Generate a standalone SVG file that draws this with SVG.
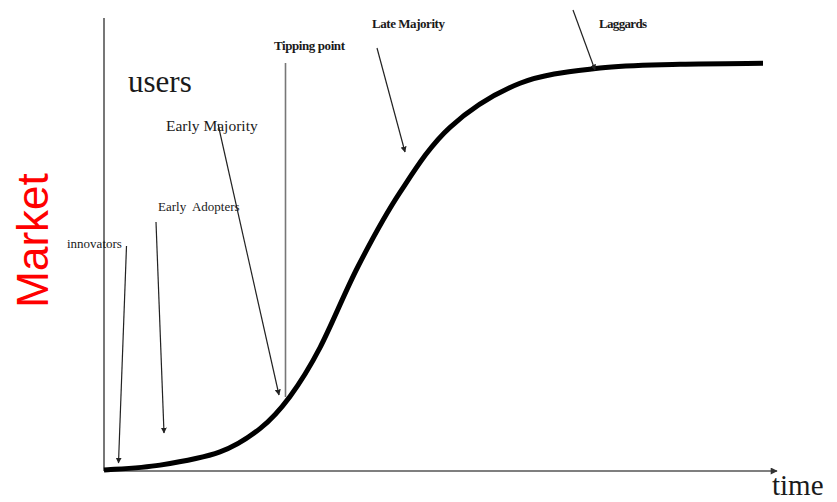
<svg xmlns="http://www.w3.org/2000/svg" width="837" height="502" viewBox="0 0 837 502">
  <style>
    .lbl { font-family: "Liberation Serif", "Times New Roman", serif; fill: #1a1a1a; }
    .axis { stroke: #555; stroke-width: 1.6; fill: none; }
    .ptr { stroke: #222; stroke-width: 1.2; fill: none; marker-end: url(#ah); }
    .curve { stroke: #000; stroke-width: 5; fill: none; stroke-linejoin: round; stroke-linecap: butt; }
  </style>
  <defs>
    <marker id="ah" viewBox="0 0 10 10" refX="9" refY="5" markerWidth="6" markerHeight="6" markerUnits="userSpaceOnUse" orient="auto">
      <path d="M0,0 L10,5 L0,10 z" fill="#222"/>
    </marker>
    <marker id="axh" viewBox="0 0 10 10" refX="9" refY="5" markerWidth="8" markerHeight="7" markerUnits="userSpaceOnUse" orient="auto">
      <path d="M0,0 L10,5 L0,10 z" fill="#333"/>
    </marker>
  </defs>
  <rect width="837" height="502" fill="#fff"/>

  <g id="axes">
    <line class="axis" x1="104" y1="18" x2="104" y2="471"/>
    <line class="axis" x1="104" y1="471" x2="777" y2="471" marker-end="url(#axh)"/>
  </g>

  <g id="adoption-curve">
    <path class="curve" d="M104,470 C113.3,469.2 140.7,468.1 160,465.1 C179.3,462.1 203.3,458 220,451.9 C236.7,445.8 248.3,437.9 260,428.6 C271.7,419.3 280,409.9 290,396.4 C300,382.9 308.7,369.3 320,347.6 C331.3,325.9 344.7,292.4 358,266.5 C371.3,240.6 384.7,215.6 400,192.4 C415.3,169.2 430,145.5 450,127.3 C470,109.1 495,93.2 520,83.3 C545,73.4 573.3,71.2 600,68 C626.7,64.8 652.8,65 680,64.2 C707.2,63.4 749.2,63.45 763,63.3"/>
  </g>

  <g id="connectors">
    <line class="ptr" x1="126.5" y1="246" x2="118.5" y2="463"/>
    <line class="ptr" x1="156" y1="222" x2="164" y2="433"/>
    <line class="ptr" x1="218" y1="124" x2="279" y2="395"/>
    <line x1="285.5" y1="63" x2="285.5" y2="397" stroke="#777" stroke-width="1.6"/>
    <line class="ptr" x1="377" y1="48" x2="405" y2="152"/>
    <line class="ptr" x1="573" y1="10" x2="595" y2="70"/>
  </g>

  <g id="market-label">
    <text transform="translate(48,240.5) rotate(-90)" text-anchor="middle" font-family="'Liberation Sans', Arial, sans-serif" font-size="44" fill="#ff0000">Market</text>
  </g>
  <g id="users-label">
    <text class="lbl" x="128" y="92" font-size="31">users</text>
  </g>
  <g id="time-label">
    <text class="lbl" x="772" y="495" font-size="29">time</text>
  </g>
  <g id="innovators">
    <text class="lbl" x="67" y="248" font-size="13">innovators</text>
  </g>
  <g id="early-adopters">
    <text class="lbl" x="158" y="211" font-size="13" xml:space="preserve">Early  Adopters</text>
  </g>
  <g id="early-majority">
    <text class="lbl" x="166" y="131" font-size="15.5">Early Majority</text>
  </g>
  <g id="tipping-point">
    <text class="lbl" x="274" y="50" font-size="13" font-weight="bold" textLength="71">Tipping point</text>
  </g>
  <g id="late-majority">
    <text class="lbl" x="372" y="28" font-size="13" font-weight="bold" textLength="73">Late Majority</text>
  </g>
  <g id="laggards">
    <text class="lbl" x="599" y="28" font-size="13" font-weight="bold" textLength="48">Laggards</text>
  </g>
</svg>
